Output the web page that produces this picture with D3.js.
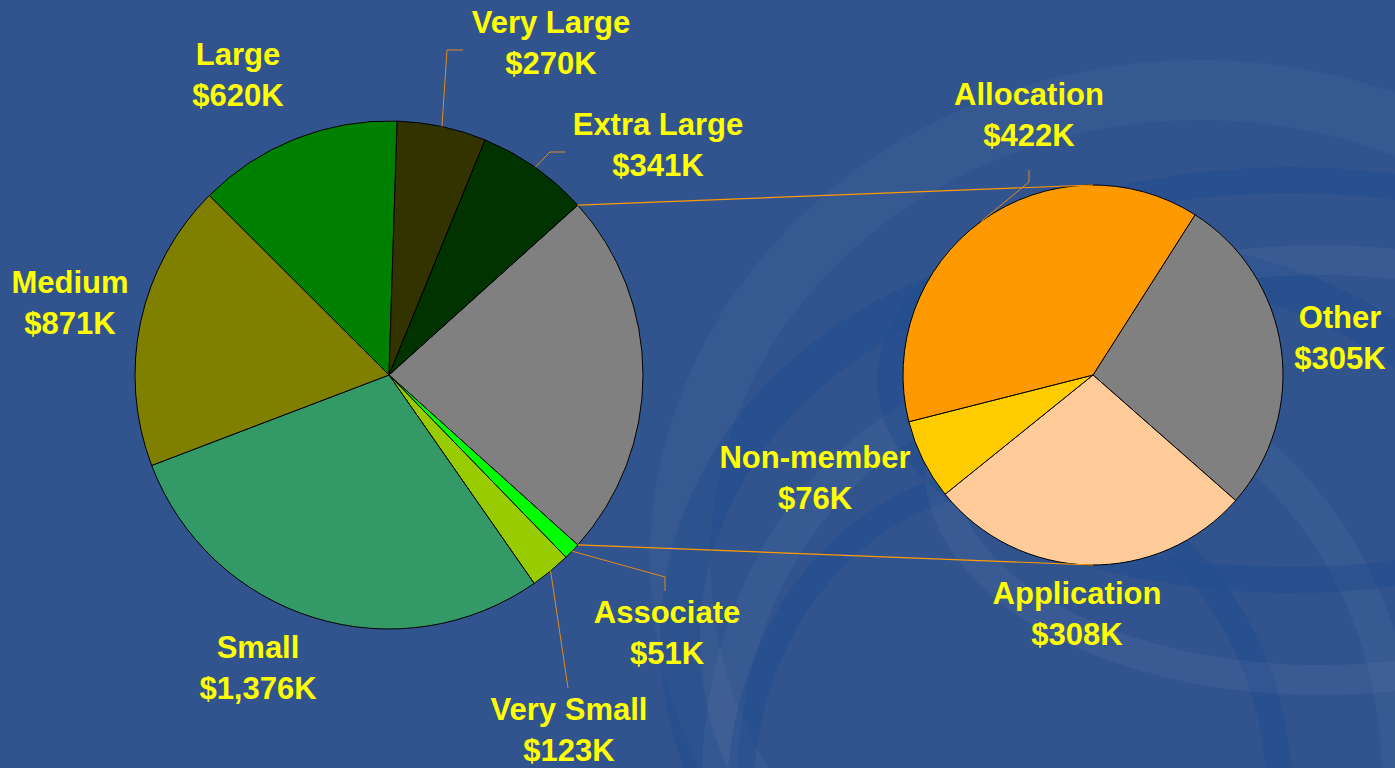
<!DOCTYPE html>
<meta charset="utf-8">
<title>Pie of pie</title>
<style>
  body { margin: 0; background: #31548f; }
  svg { display: block; }
  .lbl { font-family: "Liberation Sans", Arial, sans-serif; font-weight: bold; font-size: 31px; fill: #ffff00; text-anchor: middle; }
</style>
<body>
<div id="chart"></div>
<script src="https://d3js.org/d3.v7.min.js"></script>
<script>
// main pie, clockwise from the "Other" wedge
var mainCats = ["Other", "Associate", "Very Small", "Small", "Medium", "Large", "Very Large", "Extra Large"];
var mainVals = [1111, 51, 123, 1376, 871, 620, 270, 341];
var mainText = ["", "$51K", "$123K", "$1,376K", "$871K", "$620K", "$270K", "$341K"];
var mainColors = ["#808080", "#00ff00", "#99cc00", "#339966", "#808000", "#008000", "#333300", "#003300"];

// secondary pie (breakdown of "Other")
var subCats = ["Other", "Application", "Non-member", "Allocation"];
var subVals = [305, 308, 76, 422];
var subText = ["$305K", "$308K", "$76K", "$422K"];
var subColors = ["#808080", "#ffcc99", "#ffcc00", "#ff9900"];

var width = 1395, height = 768;
var svg = d3.select("#chart").append("svg").attr("width", width).attr("height", height);

// --- background swirls (subtle) ---
var bg = svg.append("g");
bg.append("rect").attr("width", width).attr("height", height).attr("fill", "#31548f");
var swirls = [
  {cx: 1200, cy: 560, rx: 520, ry: 470, w: 60, c: "#ffffff", o: 0.03},
  {cx: 1120, cy: 640, rx: 440, ry: 380, w: 40, c: "#1e4a8c", o: 0.4},
  {cx: 1060, cy: 780, rx: 340, ry: 400, w: 36, c: "#ffffff", o: 0.035},
  {cx: 1010, cy: 800, rx: 270, ry: 320, w: 26, c: "#1e4a8c", o: 0.4},
  {cx: 1320, cy: 470, rx: 380, ry: 210, w: 30, c: "#ffffff", o: 0.04},
  {cx: 1290, cy: 380, rx: 400, ry: 200, w: 26, c: "#1e4a8c", o: 0.35}
];
bg.selectAll("ellipse").data(swirls).join("ellipse")
  .attr("cx", d => d.cx).attr("cy", d => d.cy)
  .attr("rx", d => d.rx).attr("ry", d => d.ry)
  .attr("fill", "none").attr("stroke", d => d.c)
  .attr("stroke-width", d => d.w).attr("stroke-opacity", d => d.o);

var deg = Math.PI / 180;

// --- main pie ---
var m = {cx: 389, cy: 375, r: 254};
var greyShare = mainVals[0] / d3.sum(mainVals) * 360;
var mainPie = d3.pie().sort(null).value(d => d)
  .startAngle((90 - greyShare / 2) * deg)
  .endAngle((450 - greyShare / 2) * deg);
var mainArcs = mainPie(mainVals);
var arc = d3.arc().innerRadius(0);

var gm = svg.append("g").attr("transform", "translate(" + m.cx + "," + m.cy + ")");
gm.selectAll("path").data(mainArcs).join("path")
  .attr("d", d => arc.outerRadius(m.r)(d))
  .attr("fill", (d, i) => mainColors[i])
  .attr("stroke", "#000").attr("stroke-width", 1);

// --- secondary pie ---
var s = {cx: 1093, cy: 375, r: 190};
var subPie = d3.pie().sort(null).value(d => d)
  .startAngle(32.5 * deg).endAngle(392.5 * deg);
var subArcs = subPie(subVals);
var gs = svg.append("g").attr("transform", "translate(" + s.cx + "," + s.cy + ")");
gs.selectAll("path").data(subArcs).join("path")
  .attr("d", d => arc.outerRadius(s.r)(d))
  .attr("fill", (d, i) => subColors[i])
  .attr("stroke", "#000").attr("stroke-width", 1);

function onArc(c, a, r) {
  return [c.cx + r * Math.sin(a), c.cy - r * Math.cos(a)];
}

// connector lines between the two pies
var g0 = mainArcs[0];
var p1 = onArc(m, g0.startAngle, m.r), p2 = onArc(m, g0.endAngle, m.r);
var conn = svg.append("g").attr("stroke", "#ff9900").attr("stroke-width", 1.2).attr("fill", "none");
conn.append("line").attr("x1", p1[0]).attr("y1", p1[1]).attr("x2", s.cx).attr("y2", s.cy - s.r);
conn.append("line").attr("x1", p2[0]).attr("y1", p2[1]).attr("x2", s.cx).attr("y2", s.cy + s.r);

// label placement: center x, first baseline, leader elbow points
var mainPos = {
  "Associate":   {x: 667, y: 623, lead: [[665, 577], [665, 591]]},
  "Very Small":  {x: 569, y: 720, lead: [[568, 688]]},
  "Small":       {x: 258, y: 658},
  "Medium":      {x: 70,  y: 293},
  "Large":       {x: 238, y: 65},
  "Very Large":  {x: 551, y: 33,  lead: [[447, 50], [463, 50]]},
  "Extra Large": {x: 658, y: 135, lead: [[550, 152], [565, 152]]}
};
var subPos = {
  "Other":       {x: 1340, y: 328},
  "Application": {x: 1077, y: 604},
  "Non-member":  {x: 815,  y: 468},
  "Allocation":  {x: 1029, y: 105, lead: [[1029, 182], [1029, 170]]}
};

var leads = svg.append("g").attr("stroke", "#e08a1a").attr("stroke-width", 1).attr("fill", "none");
var labels = svg.append("g");

function addLabels(arcs, cats, texts, pos, c) {
  arcs.forEach(function (d, i) {
    var p = pos[cats[i]];
    if (!p) return;
    var t = labels.append("text").attr("class", "lbl");
    t.append("tspan").attr("x", p.x).attr("y", p.y).text(cats[i]);
    t.append("tspan").attr("x", p.x).attr("y", p.y + 41).text(texts[i]);
    if (p.lead) {
      var a = (d.startAngle + d.endAngle) / 2;
      var pts = [onArc(c, a, c.r)].concat(p.lead);
      leads.append("path").attr("d", d3.line()(pts));
    }
  });
}
addLabels(mainArcs, mainCats, mainText, mainPos, m);
addLabels(subArcs, subCats, subText, subPos, s);
</script>
</body>
